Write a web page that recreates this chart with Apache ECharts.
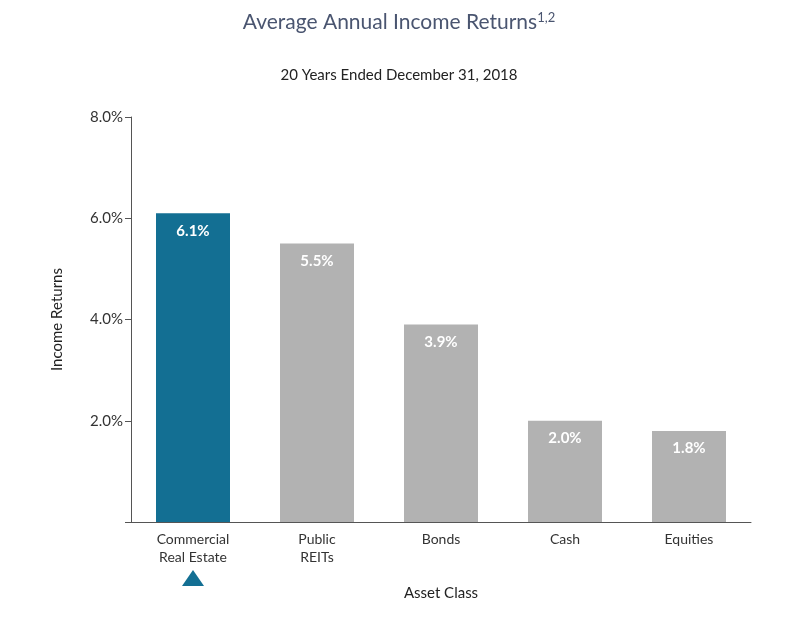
<!DOCTYPE html>
<html><head><meta charset="utf-8">
<script src="https://cdn.jsdelivr.net/npm/echarts@6/dist/echarts.min.js"></script>
<style>html,body{margin:0;padding:0;background:#fff}#c{width:798px;height:618px}</style>
</head><body><div id="c"></div>
<script>
const categories = ['Commercial\nReal Estate', 'Public\nREITs', 'Bonds', 'Cash', 'Equities'];
const values = [6.1, 5.5, 3.9, 2.0, 1.8];
const barColors = ['#136f93', '#b2b2b2', '#b2b2b2', '#b2b2b2', '#b2b2b2'];
const font = 'Lato, "Open Sans", sans-serif';
const chart = echarts.init(document.getElementById('c'));
chart.setOption({
  animation: false,
  title: [
    {text: 'Average Annual Income Returns{s|1,2}', left: 'center', top: 6,
     textStyle: {fontFamily: font, fontSize: 21, fontWeight: 'normal', color: '#4a5570',
       rich: {s: {fontFamily: font, fontSize: 13, color: '#4a5570', verticalAlign: 'top', padding: [0,0,10,0]}}}},
    {text: '20 Years Ended December 31, 2018', left: 'center', top: 63,
     textStyle: {fontFamily: font, fontSize: 15, fontWeight: 'normal', color: '#222'}}
  ],
  grid: {left: 131, right: 47, top: 117, bottom: 96},
  xAxis: {type: 'category', data: categories, name: 'Asset Class', nameLocation: 'middle', nameGap: 64,
    nameTextStyle: {fontFamily: font, fontSize: 15, color: '#222'},
    axisLine: {lineStyle: {color: '#555'}}, axisTick: {show: false},
    axisLabel: {fontFamily: font, fontSize: 14, color: '#333', lineHeight: 18, margin: 8}},
  yAxis: {type: 'value', min: 0, max: 8, interval: 2, name: 'Income Returns', nameLocation: 'middle', nameGap: 66,
    nameTextStyle: {fontFamily: font, fontSize: 15, color: '#222'},
    axisLine: {show: true, lineStyle: {color: '#555'}}, axisTick: {show: true, length: 6, lineStyle: {color: '#555'}},
    splitLine: {show: false},
    axisLabel: {fontFamily: font, fontSize: 15, color: '#333', formatter: v => v === 0 ? '' : v.toFixed(1) + '%'}},
  series: [{type: 'bar', barWidth: 74,
    data: values.map((v, i) => ({value: v, itemStyle: {color: barColors[i]}})),
    label: {show: true, position: 'insideTop', distance: 10, color: '#fff', fontFamily: font, fontSize: 15, fontWeight: 'bold',
      formatter: p => p.value.toFixed(1) + '%'}}],
  graphic: [{type: 'polygon', shape: {points: [[193, 570], [182, 586], [204, 586]]}, style: {fill: '#136f93'}}]
});
</script></body></html>
